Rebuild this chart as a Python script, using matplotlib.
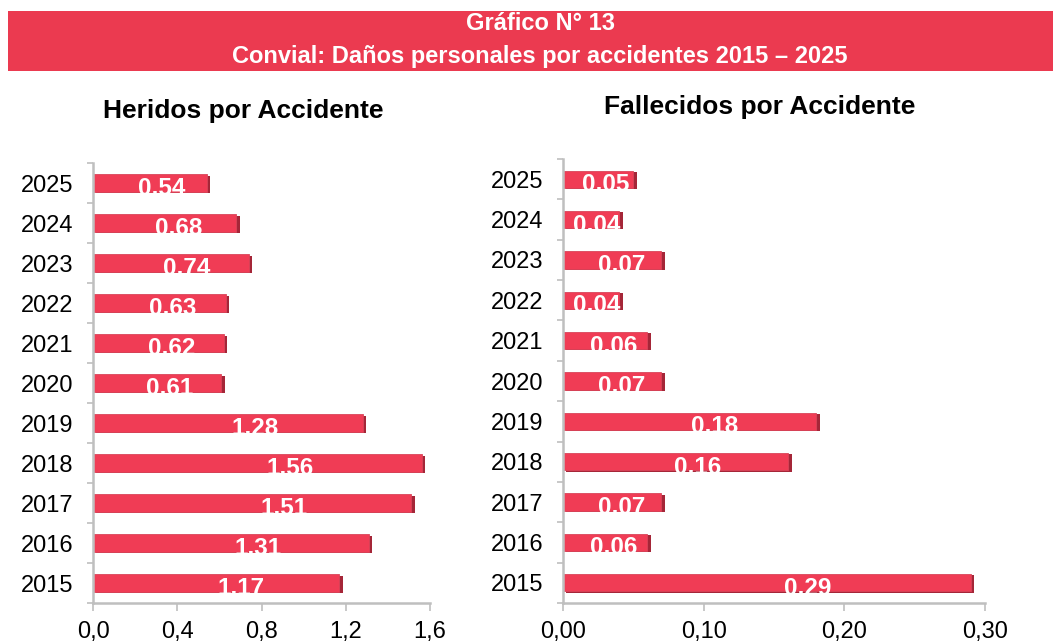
import matplotlib
matplotlib.use("Agg")
import matplotlib.pyplot as plt
import matplotlib.patheffects as pe
from matplotlib.patches import Rectangle
from matplotlib.ticker import FixedLocator, FuncFormatter

plt.rcParams['font.family'] = ['Liberation Sans', 'DejaVu Sans']

# data (2015 -> 2025)
years = ["2015", "2016", "2017", "2018", "2019", "2020", "2021", "2022", "2023", "2024", "2025"]
heridos = [1.17, 1.31, 1.51, 1.56, 1.28, 0.61, 0.62, 0.63, 0.74, 0.68, 0.54]
fallecidos = [0.29, 0.06, 0.07, 0.16, 0.18, 0.07, 0.06, 0.04, 0.07, 0.04, 0.05]
heridos_ticks = [0.0, 0.4, 0.8, 1.2, 1.6]
fallecidos_ticks = [0.00, 0.10, 0.20, 0.30]

RED = "#EB3A50"
BAR = "#F03C55"
SIDE = "#A52638"
GRAY = "#BFBFBF"


def comma(fmt):
    return FuncFormatter(lambda v, p: fmt.format(v).replace(".", ","))


def draw_panel(ax, values, ticks, tick_fmt, label_fmt):
    pos = list(range(len(years)))
    bars = ax.barh(pos, values, height=0.43, color=BAR, edgecolor="#D9455A", linewidth=0.6)
    for b in bars:
        b.set_path_effects([pe.SimplePatchShadow(offset=(2.5, -0.8), shadow_rgbFace=SIDE, alpha=1.0),
                            pe.Normal()])
    # value labels, clipped to the bar like the original
    for b, v in zip(bars, values):
        txt = ax.text(v * 0.6, b.get_y() - 0.07, label_fmt.format(v).replace(".", ","),
                      ha="center", va="baseline", color="white", fontsize=17.5, fontweight="bold")
        txt.set_clip_path(b)

    ax.set_xlim(ticks[0], ticks[-1])
    ax.set_ylim(-0.5, len(years) - 0.5)
    ax.set_yticks(pos)
    ax.set_yticklabels(years, fontsize=17)
    ax.yaxis.set_minor_locator(FixedLocator([p + 0.5 for p in range(-1, len(years))]))
    ax.tick_params(axis="y", which="major", length=0, pad=14)
    ax.tick_params(axis="y", which="minor", length=4.3, width=1.2, color=GRAY)
    ax.set_xticks(ticks)
    ax.xaxis.set_major_formatter(comma(tick_fmt))
    ax.tick_params(axis="x", length=5.8, width=1.2, color=GRAY, labelsize=17, pad=7)
    for s in ["top", "right"]:
        ax.spines[s].set_visible(False)
    for s in ["left", "bottom"]:
        ax.spines[s].set_color(GRAY)
        ax.spines[s].set_linewidth(1.8)


fig = plt.figure(figsize=(10.53, 6.43), dpi=100)

# header band
fig.patches.append(Rectangle((8 / 1053, 1 - 71 / 643), 1 - 8 / 1053, 60 / 643,
                             transform=fig.transFigure, facecolor=RED, edgecolor="none", zorder=0))
fig.text(0.513, 1 - 23 / 643, "Gráfico N° 13", ha="center", va="center", color="white",
         fontsize=17, fontweight="bold")
fig.text(0.513, 1 - 57 / 643, "Convial: Daños personales por accidentes 2015 – 2025", ha="center",
         va="center", color="white", fontsize=17, fontweight="bold")

ax1 = fig.add_axes([93 / 1053, 1 - 603 / 643, 337 / 1053, 440 / 643])
ax2 = fig.add_axes([563 / 1053, 1 - 603 / 643, 422 / 1053, 444 / 643])

draw_panel(ax1, heridos, heridos_ticks, "{:.1f}", "{:.2f}")
draw_panel(ax2, fallecidos, fallecidos_ticks, "{:.2f}", "{:.2f}")

fig.text(243 / 1053, 1 - 111 / 643, "Heridos por Accidente", ha="center", va="center",
         fontsize=19, fontweight="bold")
fig.text(760 / 1053, 1 - 107 / 643, "Fallecidos por Accidente", ha="center", va="center",
         fontsize=19, fontweight="bold")

fig.savefig("out.png", dpi=100, facecolor="white")
